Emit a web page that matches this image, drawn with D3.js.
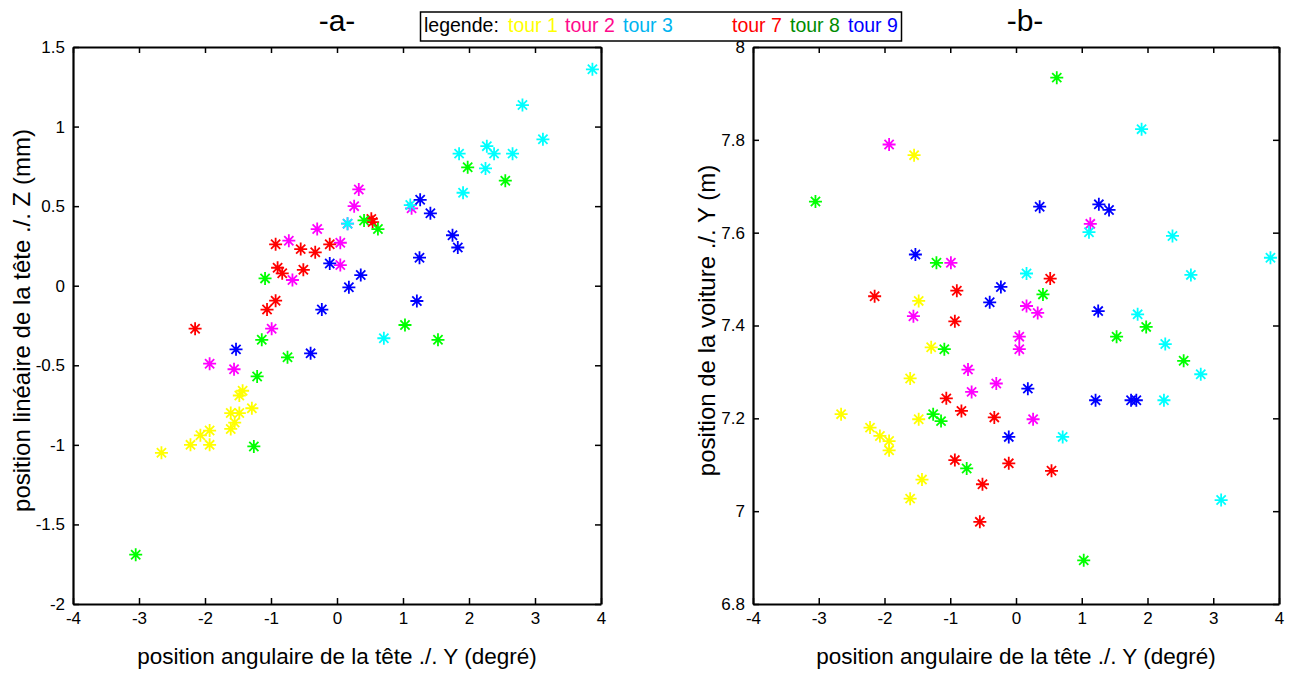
<!DOCTYPE html>
<html>
<head>
<meta charset="utf-8">
<script src="https://cdn.jsdelivr.net/npm/d3@7"></script>
<style>
  body { margin: 0; background: #fff; }
  svg text { font-family: "Liberation Sans", Arial, Helvetica, sans-serif; }
</style>
</head>
<body>
<svg id="chart" width="1296" height="673"></svg>
<script>
// tick values
const xTicks = [-4, -3, -2, -1, 0, 1, 2, 3, 4];
const yTicksA = [-2, -1.5, -1, -0.5, 0, 0.5, 1, 1.5];
const yTicksB = [6.8, 7, 7.2, 7.4, 7.6, 7.8, 8];

// tour 1
const angleTour1 = [-2.66, -2.22, -2.07, -1.93, -1.93, -1.61, -1.61, -1.55, -1.48, -1.48, -1.43, -1.29];
const headTour1  = [-1.05, -1.0, -0.94, -0.91, -1.0, -0.80, -0.90, -0.86, -0.80, -0.69, -0.66, -0.77];
const carTour1   = [7.209, 7.18, 7.162, 7.151, 7.131, 7.286, 7.027, 7.767, 7.453, 7.198, 7.068, 7.353];
// tour 2
const angleTour2 = [0.33, 0.26, 0.16, -0.30, -0.73, 0.05, 0.05, -0.675, -0.99, 1.13, -1.56, -1.93];
const headTour2  = [0.605, 0.50, 0.39, 0.356, 0.283, 0.27, 0.13, 0.036, -0.27, 0.486, -0.525, -0.49];
const carTour2   = [7.427, 7.198, 7.442, 7.275, 7.305, 7.376, 7.349, 7.257, 7.535, 7.619, 7.420, 7.790];
// tour 3
const angleTour3 = [2.81, 3.12, 1.85, 2.27, 2.38, 2.66, 2.25, 1.91, 1.11, 0.71, 0.16, 3.87];
const headTour3  = [1.135, 0.92, 0.83, 0.877, 0.83, 0.83, 0.737, 0.584, 0.507, -0.33, 0.39, 1.36];
const carTour3   = [7.295, 7.024, 7.424, 7.360, 7.593, 7.509, 7.239, 7.823, 7.601, 7.160, 7.512, 7.546];
// tour 7
const angleTour7 = [0.52, 0.54, -0.93, -0.55, -0.33, -0.11, -0.90, -0.83, -0.51, -0.93, -1.06, -2.15];
const headTour7  = [0.42, 0.40, 0.26, 0.23, 0.21, 0.26, 0.113, 0.078, 0.10, -0.094, -0.15, -0.27];
const carTour7   = [7.501, 7.087, 7.409, 6.977, 7.202, 7.103, 7.475, 7.216, 7.058, 7.110, 7.243, 7.463];
// tour 8
const angleTour8 = [0.41, 0.62, -1.09, -1.14, -0.75, 1.03, -1.21, -1.26, -3.05, 1.98, 2.55, 1.53];
const headTour8  = [0.41, 0.356, 0.046, -0.34, -0.45, -0.247, -0.57, -1.01, -1.69, 0.744, 0.66, -0.34];
const carTour8   = [7.467, 7.934, 7.349, 7.194, 7.092, 6.894, 7.535, 7.209, 7.667, 7.397, 7.324, 7.376];
// tour 9
const angleTour9 = [1.26, 1.415, -0.11, 0.36, 0.18, 1.25, 1.21, -0.23, -1.53, -0.40, 1.75, 1.83];
const headTour9  = [0.54, 0.455, 0.14, 0.067, -0.01, 0.176, -0.096, -0.15, -0.40, -0.425, 0.317, 0.24];
const carTour9   = [7.661, 7.649, 7.160, 7.656, 7.264, 7.431, 7.239, 7.483, 7.553, 7.450, 7.239, 7.239];

const tourNames = ['tour 1', 'tour 2', 'tour 3', 'tour 7', 'tour 8', 'tour 9'];
const markerColors = ['#ffff00', '#ff00ff', '#00ffff', '#ff0000', '#00ff00', '#0000ff'];
const legendColors = ['#ffff00', '#ff0a8c', '#00b4f0', '#ff0000', '#008c00', '#0000ff'];

const series = [
  { angle: angleTour1, head: headTour1, car: carTour1 },
  { angle: angleTour2, head: headTour2, car: carTour2 },
  { angle: angleTour3, head: headTour3, car: carTour3 },
  { angle: angleTour7, head: headTour7, car: carTour7 },
  { angle: angleTour8, head: headTour8, car: carTour8 },
  { angle: angleTour9, head: headTour9, car: carTour9 }
].map((s, i) => ({
  name: tourNames[i],
  color: markerColors[i],
  points: s.angle.map((a, j) => ({ x: a, za: s.head[j], yb: s.car[j] }))
}));

const svg = d3.select('#chart');
svg.append('rect').attr('width', 1296).attr('height', 673).attr('fill', '#fff');

// asterisk marker like matlab '*'
const r = 6.5, dg = 4.6;
const starPath = `M${-r},0H${r}M0,${-r}V${r}M${-dg},${-dg}L${dg},${dg}M${-dg},${dg}L${dg},${-dg}`;

const fmt = d => String(d);

function drawPanel(opts) {
  const x = d3.scaleLinear().domain([-4, 4]).range([opts.left, opts.right]);
  const y = d3.scaleLinear().domain(opts.yDomain).range([opts.bottom, opts.top]);
  const g = svg.append('g');

  // points
  series.forEach(s => {
    g.append('g')
      .selectAll('path')
      .data(s.points)
      .enter().append('path')
      .attr('d', starPath)
      .attr('transform', d => `translate(${x(d.x)},${y(d[opts.key])})`)
      .attr('fill', 'none')
      .attr('stroke', s.color)
      .attr('stroke-width', 1.8);
  });

  const bottom = d3.axisBottom(x).tickValues(xTicks).tickFormat(fmt).tickSizeInner(-6).tickSizeOuter(0).tickPadding(8);
  const top = d3.axisTop(x).tickValues(xTicks).tickFormat('').tickSizeInner(-6).tickSizeOuter(0);
  const left = d3.axisLeft(y).tickValues(opts.yTicks).tickFormat(fmt).tickSizeInner(-6).tickSizeOuter(0).tickPadding(8);
  const right = d3.axisRight(y).tickValues(opts.yTicks).tickFormat('').tickSizeInner(-6).tickSizeOuter(0);

  const axes = [
    g.append('g').attr('transform', `translate(0,${opts.bottom})`).call(bottom),
    g.append('g').attr('transform', `translate(0,${opts.top})`).call(top),
    g.append('g').attr('transform', `translate(${opts.left},0)`).call(left),
    g.append('g').attr('transform', `translate(${opts.right},0)`).call(right)
  ];
  axes.forEach(a => {
    a.select('.domain').attr('stroke', '#000').attr('stroke-width', 2.2);
    a.selectAll('.tick line').attr('stroke', '#000').attr('stroke-width', 1.5);
    a.selectAll('.tick text').attr('fill', '#000').style('font-size', '17px');
  });

  // titles and labels
  svg.append('text')
    .attr('x', opts.titleX).attr('y', 31)
    .attr('text-anchor', 'middle')
    .style('font-size', '30px')
    .text(opts.title);

  svg.append('text')
    .attr('x', (opts.left + opts.right) / 2).attr('y', 664)
    .attr('text-anchor', 'middle')
    .style('font-size', '22.5px')
    .text('position angulaire de la tête ./. Y (degré)');

  svg.append('text')
    .attr('transform', `translate(${opts.yLabelX},${(opts.top + opts.bottom) / 2 - 5}) rotate(-90)`)
    .attr('text-anchor', 'middle')
    .style('font-size', '24px')
    .text(opts.yLabel);
}

drawPanel({
  left: 73, right: 601, top: 47, bottom: 604,
  yDomain: [-2, 1.5], yTicks: yTicksA, key: 'za',
  title: '-a-', titleX: 337,
  yLabel: 'position linéaire de la tête ./. Z (mm)', yLabelX: 30
});

drawPanel({
  left: 753, right: 1279, top: 47, bottom: 604,
  yDomain: [6.8, 8], yTicks: yTicksB, key: 'yb',
  title: '-b-', titleX: 1025,
  yLabel: 'position de la voiture ./. Y (m)', yLabelX: 715
});

// legend box
const legend = svg.append('g');
legend.append('rect')
  .attr('x', 420.5).attr('y', 12).attr('width', 481).attr('height', 29)
  .attr('fill', '#fff').attr('stroke', '#000').attr('stroke-width', 1.5);

const legendText = legend.append('text')
  .attr('y', 32)
  .style('font-size', '19.5px');
legendText.append('tspan').attr('x', 424).attr('fill', '#000').text('legende:');
const legendX = [508, 565, 623, 732, 790, 848];
tourNames.forEach((t, i) => {
  legendText.append('tspan')
    .attr('x', legendX[i])
    .attr('fill', legendColors[i])
    .text(t);
});
</script>
</body>
</html>
